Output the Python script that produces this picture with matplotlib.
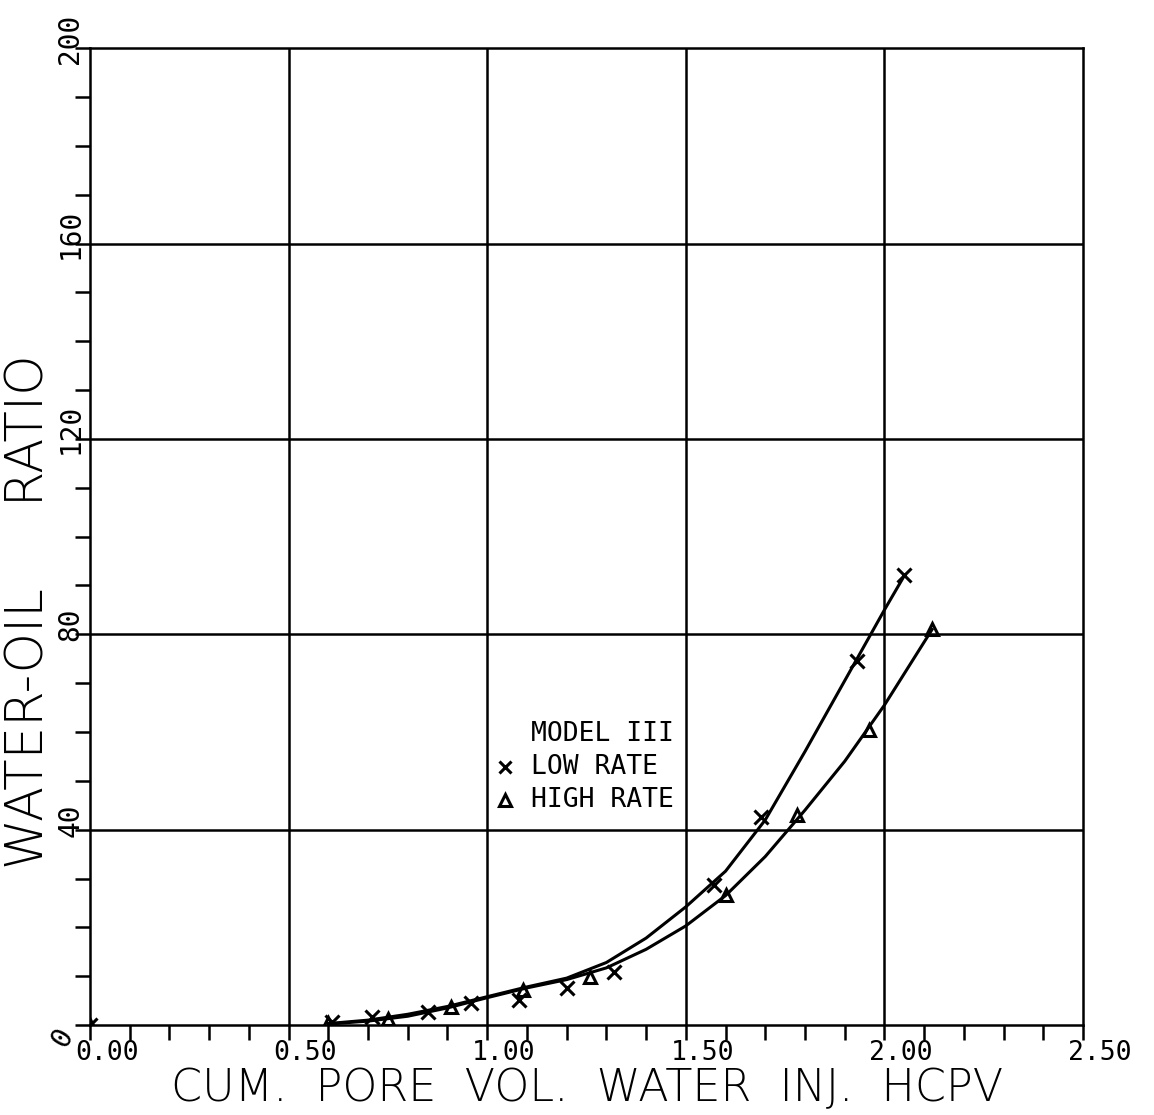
import matplotlib
matplotlib.use("Agg")
import matplotlib.pyplot as plt
from matplotlib.ticker import MultipleLocator

# measured points, model III
low_x = [0.00, 0.61, 0.71, 0.85, 0.96, 1.08, 1.20, 1.32, 1.57, 1.69, 1.93, 2.05]
low_y = [0.0, 0.6, 1.6, 2.7, 4.5, 5.2, 7.5, 10.8, 28.7, 42.5, 74.6, 92.1]
high_x = [0.00, 0.60, 0.75, 0.91, 1.09, 1.26, 1.60, 1.78, 1.96, 2.12]
high_y = [0.0, 0.4, 1.3, 3.7, 7.2, 9.8, 26.6, 43.0, 60.4, 81.0]

# hand-faired curves through each set
low_cx = [0.60, 0.70, 0.80, 0.90, 1.00, 1.10, 1.20, 1.30, 1.40, 1.50, 1.60,
          1.70, 1.80, 1.90, 2.00, 2.05]
low_cy = [0.3, 1.0, 2.2, 3.8, 5.8, 7.8, 9.6, 12.8, 17.8, 24.2, 31.5,
          42.0, 56.0, 70.5, 85.0, 92.0]
high_cx = [0.60, 0.70, 0.80, 0.90, 1.00, 1.10, 1.20, 1.30, 1.40, 1.50, 1.60,
           1.70, 1.80, 1.90, 2.00, 2.12]
high_cy = [0.2, 0.8, 1.8, 3.5, 5.6, 7.6, 9.3, 11.7, 15.5, 20.3, 26.5,
           34.5, 44.0, 54.0, 65.5, 81.0]

x_major = [0.0, 0.5, 1.0, 1.5, 2.0, 2.5]
x_labels = ["0.00", "0.50", "1.00", "1.50", "2.00", "2.50"]
y_major = [40, 80, 120, 160, 200]
y_labels = ["40", "80", "120", "160", "200"]

MONO = "DejaVu Sans Mono"
LW = 1.8

fig = plt.figure(figsize=(11.54, 11.15), dpi=100)
ax = fig.add_axes([0.078, 0.0807, 0.8605, 0.876])
ax.set_xlim(0, 2.5)
ax.set_ylim(0, 200)

for v in x_major[1:-1]:
    ax.axvline(v, color="black", lw=LW, zorder=1)
for v in y_major[:-1]:
    ax.axhline(v, color="black", lw=LW, zorder=1)

ax.plot(low_cx, low_cy, color="black", lw=2.2, zorder=3)
ax.plot(high_cx, high_cy, color="black", lw=2.2, zorder=3)
ax.plot(low_x, low_y, "x", color="black", ms=10, mew=2.2, zorder=4)
ax.plot(high_x, high_y, "^", color="black", ms=9, mew=2.2,
        fillstyle="none", zorder=4)

for s in ax.spines.values():
    s.set_linewidth(LW)

ax.xaxis.set_major_locator(MultipleLocator(0.1))
ax.yaxis.set_major_locator(MultipleLocator(10))
ax.tick_params(direction="out", length=11, width=LW,
               labelbottom=False, labelleft=False)

# tick labels set by hand, plotter style (offset right / rotated)
for v, lab in zip(x_major, x_labels):
    ax.annotate(lab, (v, 0), xytext=(12, -11), textcoords="offset points",
                xycoords="data", ha="center", va="top", fontsize=19,
                family=MONO, annotation_clip=False)
for v, lab in zip(y_major, y_labels):
    ax.annotate(lab, (0, v), xytext=(-4, 7), textcoords="offset points",
                xycoords="data", ha="right", va="center", rotation=90,
                fontsize=20, family=MONO, annotation_clip=False)
ax.annotate("0", (0, 0), xytext=(-8, -9), textcoords="offset points",
            ha="right", va="center", rotation=60, fontsize=20, family=MONO,
            annotation_clip=False)

fig.text(587 / 1154, 1 - 1089 / 1115, "CUM.  PORE  VOL.  WATER  INJ.  HCPV",
         fontsize=32, fontweight="light", ha="center", va="center")
fig.text(29 / 1154, 1 - 612 / 1115, "WATER-OIL     RATIO",
         fontsize=37, fontweight="light", ha="center", va="center",
         rotation=90)

# legend block
ax.text(1.11, 59.5, "MODEL III", fontsize=19, family=MONO,
        ha="left", va="center")
ax.text(1.11, 52.8, "LOW RATE", fontsize=19, family=MONO,
        ha="left", va="center")
ax.text(1.11, 46.0, "HIGH RATE", fontsize=19, family=MONO,
        ha="left", va="center")
ax.plot([1.045], [52.8], "x", color="black", ms=9, mew=2.2)
ax.plot([1.045], [46.0], "^", color="black", ms=9, mew=2.2, fillstyle="none")

fig.savefig("out.png", dpi=100)
